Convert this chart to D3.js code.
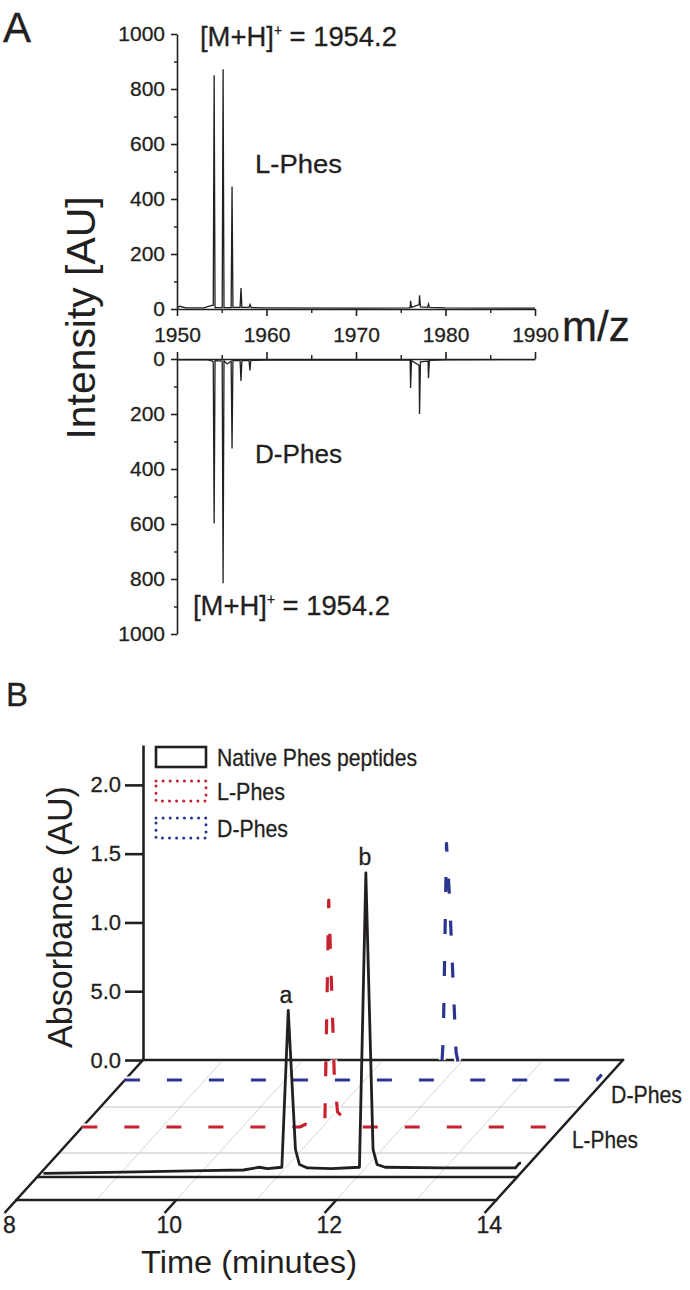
<!DOCTYPE html>
<html><head><meta charset="utf-8">
<script src="https://cdn.jsdelivr.net/npm/d3@7"></script>
<style>html,body{margin:0;padding:0;background:#fff;} svg{display:block;} text{paint-order:stroke;}</style>
</head><body><svg id="c" width="690" height="1290"></svg>
<script>
// ---------------- DATA ----------------
// Panel A: mass spectra
const mzTicks = [1950, 1960, 1970, 1980, 1990];
const mzMinorTicks = [1955, 1965, 1975, 1985];
const intensityTicks = [0, 200, 400, 600, 800, 1000];
const intensityMinorTicks = [100, 300, 500, 700, 900];
const lPhesMz  = [1950.0, 1950.3, 1951.0, 1953.0, 1953.8, 1954.05, 1954.15, 1954.25, 1955.05, 1955.15, 1955.25, 1956.05, 1956.15, 1956.25, 1957.05, 1957.15, 1957.25, 1958.05, 1958.15, 1958.3, 1960, 1970, 1975.9, 1976.05, 1976.1, 1976.2, 1976.9, 1977.05, 1977.1, 1977.2, 1978.0, 1978.1, 1978.2, 1980, 1990];
const lPhesInt = [4, 10, 4, 4, 12, 14, 850, 5, 5, 872, 5, 5, 445, 6, 6, 76, 6, 6, 16, 5, 4, 3, 4, 6, 30, 6, 14, 16, 50, 8, 6, 18, 6, 4, 3];
const dPhesMz  = [1950.0, 1953.5, 1953.95, 1954.05, 1954.15, 1954.25, 1955.05, 1955.15, 1955.25, 1955.6, 1956.05, 1956.15, 1956.25, 1957.05, 1957.15, 1957.25, 1958.05, 1958.15, 1958.25, 1960, 1975.9, 1976.05, 1976.1, 1976.2, 1977.0, 1977.05, 1977.1, 1977.2, 1978.0, 1978.05, 1978.1, 1978.2, 1980, 1990];
const dPhesInt = [3, 3, 8, 10, 598, 6, 8, 815, 6, 18, 8, 325, 6, 6, 80, 6, 6, 42, 5, 4, 4, 5, 105, 6, 22, 24, 200, 10, 8, 8, 70, 5, 3, 2];

// Panel B: HPLC chromatograms
const timeTicks = [8, 10, 12, 14];
const timeGrid = [9, 10, 11, 12, 13];
const absTicks = [0, 0.5, 1, 1.5, 2];
const absTickLabels = ["0.0", "5.0", "1.0", "1.5", "2.0"];
const seriesNames = ["Native Phes peptides", "L-Phes", "D-Phes"];
const nativeTime = [8.0, 9.0, 10.0, 10.5, 10.7, 10.8, 10.98, 11.06, 11.15, 11.2, 11.3, 11.6, 11.95, 12.03, 12.12, 12.17, 12.27, 13.0, 13.9, 13.95, 13.97];
const nativeAbs  = [-0.025, -0.015, -0.005, 0.0, 0.02, 0.01, 0.02, 1.16, 0.15, 0.04, 0.015, 0.01, 0.02, 2.16, 0.15, 0.04, 0.02, 0.015, 0.015, 0.05, 0.05];
const lTime = [8.0, 9.0, 10.0, 10.72, 10.79, 10.9, 11.03, 11.08, 11.13, 11.15, 11.19, 11.32, 11.37, 12.0, 13.0, 13.88, 13.93];
const lAbs  = [0.0, 0.0, 0.0, 0.0, 0.02, 0.01, 0.0, 1.65, 0.75, 0.35, 0.11, 0.03, 0.0, 0.0, 0.0, 0.0, 0.04];
const dTime = [8.0, 9.0, 10.0, 11.0, 11.95, 11.98, 12.02, 12.06, 12.14, 12.18, 12.22, 12.6, 13.0, 13.9, 13.96];
const dAbs  = [0, 0, 0, 0, 0, 0.3, 1.72, 1.3, 0.2, 0.09, 0, 0, 0, 0, 0.04];

// ---------------- DRAWING ----------------
const FONT = "'Liberation Sans', Arial, Helvetica, sans-serif";
const ink = "#231f20";
const red = "#c8202e";
const blue = "#2b3590";
const svg = d3.select("#c").attr("font-family", FONT);

function styleAxis(g, sw, fs) {
  g.attr("font-family", FONT).attr("font-size", fs);
  g.selectAll("path, line").attr("stroke", ink).attr("stroke-width", sw);
  g.selectAll("text").attr("fill", ink).attr("stroke", ink).attr("stroke-width", 0.3);
}
function txt(x, y, fs, s) {
  return svg.append("text").attr("x", x).attr("y", y).attr("font-size", fs).attr("fill", ink)
    .attr("stroke", ink).attr("stroke-width", 0.3).text(s);
}

// ===== Panel A =====
const xA = d3.scaleLinear().domain([1950, 1990]).range([177, 535]);
const yTop = d3.scaleLinear().domain([0, 1000]).range([309, 34]);
const yBot = d3.scaleLinear().domain([0, 1000]).range([359, 634]);

// top x axis
svg.append("g").attr("transform", "translate(0,309)")
  .call(d3.axisBottom(xA).tickValues(mzTicks).tickSize(7).tickSizeOuter(0).tickPadding(11).tickFormat(d3.format("d")))
  .call(g => styleAxis(g, 1.6, 21));
svg.append("g").attr("transform", "translate(0,309)")
  .call(d3.axisBottom(xA).tickValues(mzMinorTicks).tickSize(4).tickSizeOuter(0).tickFormat(""))
  .call(g => { styleAxis(g, 1.4, 21); g.select(".domain").remove(); });
// top y axis
svg.append("g").attr("transform", "translate(177,0)")
  .call(d3.axisLeft(yTop).tickValues(intensityTicks).tickSize(6).tickSizeOuter(0).tickPadding(6).tickFormat(d3.format("d")))
  .call(g => styleAxis(g, 1.6, 21));
svg.append("g").attr("transform", "translate(177,0)")
  .call(d3.axisLeft(yTop).tickValues(intensityMinorTicks).tickSize(3).tickSizeOuter(0).tickFormat(""))
  .call(g => { styleAxis(g, 1.4, 21); g.select(".domain").remove(); });

// bottom x axis (ticks upward, no labels)
svg.append("g").attr("transform", "translate(0,359)")
  .call(d3.axisTop(xA).tickValues(mzTicks).tickSize(7).tickSizeOuter(0).tickFormat(""))
  .call(g => styleAxis(g, 1.6, 21));
svg.append("g").attr("transform", "translate(0,359)")
  .call(d3.axisTop(xA).tickValues(mzMinorTicks).tickSize(4).tickSizeOuter(0).tickFormat(""))
  .call(g => { styleAxis(g, 1.4, 21); g.select(".domain").remove(); });
// bottom y axis
svg.append("g").attr("transform", "translate(177,0)")
  .call(d3.axisLeft(yBot).tickValues(intensityTicks).tickSize(6).tickSizeOuter(0).tickPadding(6).tickFormat(d3.format("d")))
  .call(g => styleAxis(g, 1.6, 21));
svg.append("g").attr("transform", "translate(177,0)")
  .call(d3.axisLeft(yBot).tickValues(intensityMinorTicks).tickSize(3).tickSizeOuter(0).tickFormat(""))
  .call(g => { styleAxis(g, 1.4, 21); g.select(".domain").remove(); });

// spectra
const lineTop = d3.line().x((d, i) => xA(lPhesMz[i])).y(d => yTop(d));
svg.append("path").attr("d", lineTop(lPhesInt)).attr("fill", "none").attr("stroke", ink).attr("stroke-width", 1.3);
const lineBot = d3.line().x((d, i) => xA(dPhesMz[i])).y(d => yBot(d));
svg.append("path").attr("d", lineBot(dPhesInt)).attr("fill", "none").attr("stroke", ink).attr("stroke-width", 1.3);

// panel A texts
txt(3, 42, 42, "A");
svg.append("text").attr("transform", "translate(95,318) rotate(-90)").attr("text-anchor", "middle")
  .attr("font-size", 41).attr("fill", ink).attr("textLength", 243).attr("lengthAdjust", "spacingAndGlyphs").text("Intensity [AU]");
txt(562, 341, 42, "m/z");
function mhLabel(x, y) {
  const t = txt(x, y, 28, null).attr("textLength", 197).attr("lengthAdjust", "spacingAndGlyphs");
  t.append("tspan").text("[M+H]");
  t.append("tspan").attr("font-size", 14).attr("dy", -11).text("+");
  t.append("tspan").attr("dy", 11).text(" = 1954.2");
}
mhLabel(200, 46);
mhLabel(193, 615);
txt(255, 173, 26, seriesNames[1]).attr("textLength", 87).attr("lengthAdjust", "spacingAndGlyphs");
txt(255, 463, 26, seriesNames[2]).attr("textLength", 87).attr("lengthAdjust", "spacingAndGlyphs");

// ===== Panel B =====
const xB = d3.scaleLinear().domain([8, 14]).range([143, 623]);
const yB = d3.scaleLinear().domain([0, 2.29]).range([1060, 745]);
const SLANT = -0.905;
const P = (t, v, dz) => [xB(t) + SLANT * dz, yB(v) + dz];
const FRONT = 140;

const floor = svg.append("g");
[47, 93].forEach(dz => {
  const a = P(8, 0, dz), b = P(14, 0, dz);
  floor.append("line").attr("x1", a[0]).attr("y1", a[1]).attr("x2", b[0]).attr("y2", b[1])
    .attr("stroke", "#c4c4c4").attr("stroke-width", 1);
});
timeGrid.forEach(t => {
  const a = P(t, 0, 0), b = P(t, 0, FRONT);
  floor.append("line").attr("x1", a[0]).attr("y1", a[1]).attr("x2", b[0]).attr("y2", b[1])
    .attr("stroke", "#cccccc").attr("stroke-width", 0.8);
});
[[8, 0, 8, FRONT], [14, 0, 14, FRONT]].forEach(([t1, z1, t2, z2]) => {
  const a = P(t1, 0, z1), b = P(t2, 0, z2);
  floor.append("line").attr("x1", a[0]).attr("y1", a[1]).attr("x2", b[0]).attr("y2", b[1])
    .attr("stroke", ink).attr("stroke-width", 2.6).attr("stroke-linecap", "round");
});
[0, 117, FRONT].forEach(dz => {
  const a = P(8, 0, dz), b = P(14, 0, dz);
  floor.append("line").attr("x1", a[0]).attr("y1", a[1]).attr("x2", b[0]).attr("y2", b[1])
    .attr("stroke", ink).attr("stroke-width", 2.6).attr("stroke-linecap", "round");
});
timeTicks.forEach(t => {
  const a = P(t, 0, FRONT), b = P(t, 0, FRONT + 13);
  floor.append("line").attr("x1", a[0]).attr("y1", a[1]).attr("x2", b[0]).attr("y2", b[1])
    .attr("stroke", ink).attr("stroke-width", 2.6);
  txt(a[0] - 7, 1233, 23, t).attr("text-anchor", "middle");
});

// y axis
svg.append("g").attr("transform", "translate(143,0)")
  .call(d3.axisLeft(yB).tickValues(absTicks).tickFormat((d, i) => absTickLabels[i]).tickSize(18).tickSizeOuter(0).tickPadding(4))
  .call(g => styleAxis(g, 2.6, 22));

// traces
function trace(times, vals, dz) {
  return d3.line().x((d, i) => P(times[i], d, dz)[0]).y((d, i) => P(times[i], d, dz)[1])(vals);
}
const dash = "15,27";
[[dTime, dAbs, 20, blue], [lTime, lAbs, 67, red]].forEach(([tt, vv, dz, col]) => {
  const dd = trace(tt, vv, dz);
  svg.append("path").attr("d", dd).attr("fill", "none").attr("stroke", "#fff").attr("stroke-width", 7)
    .attr("stroke-dasharray", dash);
  svg.append("path").attr("d", dd).attr("fill", "none").attr("stroke", col).attr("stroke-width", 3.2)
    .attr("stroke-dasharray", dash).attr("stroke-linejoin", "round");
});
svg.append("path").attr("d", trace(nativeTime, nativeAbs, 110)).attr("fill", "none")
  .attr("stroke", ink).attr("stroke-width", 2.8).attr("stroke-linejoin", "round");

// peak labels
txt(286, 1003, 23, "a").attr("text-anchor", "middle");
txt(365, 865, 23, "b").attr("text-anchor", "middle");

// series labels on floor
txt(611, 1103, 24, seriesNames[2]).attr("textLength", 71).attr("lengthAdjust", "spacingAndGlyphs");
txt(572, 1148, 24, seriesNames[1]).attr("textLength", 66).attr("lengthAdjust", "spacingAndGlyphs");

// titles
txt(6, 706, 33, "B");
svg.append("text").attr("transform", "translate(72,917) rotate(-90)").attr("text-anchor", "middle")
  .attr("font-size", 35).attr("fill", ink).attr("textLength", 262).attr("lengthAdjust", "spacingAndGlyphs").text("Absorbance (AU)");
svg.append("text").attr("x", 249).attr("y", 1273).attr("text-anchor", "middle")
  .attr("font-size", 31).attr("fill", ink).attr("textLength", 216).attr("lengthAdjust", "spacingAndGlyphs").text("Time (minutes)");

// legend
const legend = [
  {name: seriesNames[0], y: 747, col: ink, dotted: false, w: 200},
  {name: seriesNames[1], y: 781, col: red, dotted: true, w: 68},
  {name: seriesNames[2], y: 818, col: blue, dotted: true, w: 71}
];
legend.forEach(d => {
  const r = svg.append("rect").attr("x", 156).attr("y", d.y).attr("width", 50).attr("height", 20)
    .attr("fill", "none").attr("stroke", d.col);
  if (d.dotted) r.attr("stroke-width", 3).attr("stroke-dasharray", "0,7.1").attr("stroke-linecap", "round");
  else r.attr("stroke-width", 2.6);
  txt(217, d.y + 19, 24, d.name).attr("textLength", d.w).attr("lengthAdjust", "spacingAndGlyphs");
});
</script></body></html>
